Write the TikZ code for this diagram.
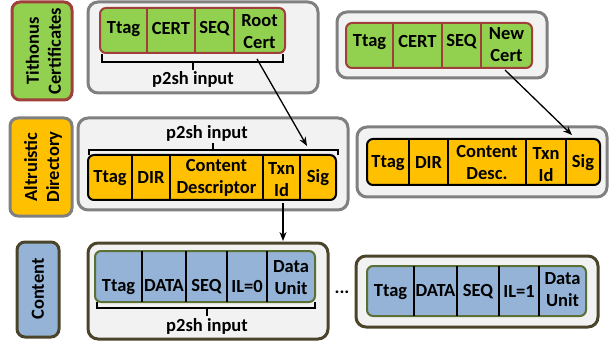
\documentclass[tikz,border=0pt]{standalone}
\usepackage{fontspec}
\setmainfont{Carlito}
\usetikzlibrary{arrows.meta}
\definecolor{grfill}{HTML}{92D050}
\definecolor{grbord}{HTML}{A0403C}
\definecolor{orfill}{HTML}{FFC000}
\definecolor{blfill}{HTML}{95B3D7}
\definecolor{blbord}{HTML}{5A7035}
\definecolor{cfill}{HTML}{F2F2F2}
\definecolor{cgrey}{HTML}{808080}
\definecolor{colive}{HTML}{4A452A}
\begin{document}
\begin{tikzpicture}[x=1pt,y=-1pt,
  font=\bfseries\fontsize{18.5}{22}\selectfont,
  box/.style={anchor=north west, inner sep=0pt, outer sep=0pt},
  cont/.style={box, fill=cfill, draw=cgrey, line width=3pt, rounded corners=10pt},
  contol/.style={cont, draw=colive},
  grec/.style={box, fill=grfill, draw=grbord, line width=2pt, rounded corners=6pt},
  orec/.style={box, fill=orfill, draw=black, line width=2pt, rounded corners=6pt},
  brec/.style={box, fill=blfill, draw=blbord, line width=2pt, rounded corners=6pt},
  gsep/.style={draw=grbord, line width=1.5pt},
  ksep/.style={draw=black, line width=1.5pt},
  txt/.style={inner sep=0pt, align=center},
  lab/.style={box, line width=3pt, rounded corners=8pt},
  brace/.style={draw=black, line width=1.2pt},
  arr/.style={draw=black, line width=1.3pt, -{Stealth[length=9pt,width=7pt]}}
]
\useasboundingbox (0,0) rectangle (612,347);

% side labels
\node[lab, fill=grfill, draw=grbord, minimum width=60pt, minimum height=98pt] (l1) at (12,2) {};
\node[txt, rotate=90] (l1t) at (43.5,51) {Tithonus\\Certificates};
\node[lab, fill=orfill, draw=cgrey, minimum width=62pt, minimum height=98pt] (l2) at (10,118) {};
\node[txt, rotate=90] (l2t) at (43,167) {Altruistic\\Directory};
\node[lab, fill=blfill, draw=colive, minimum width=42pt, minimum height=95pt] (l3) at (17,242) {};
\node[txt, rotate=90] (l3t) at (38,289) {Content};

% containers
\node[cont, minimum width=230pt, minimum height=91pt] (c1) at (88,2) {};
\node[cont, minimum width=210pt, minimum height=66pt] (c2) at (337,12) {};
\node[cont, minimum width=270pt, minimum height=92pt] (c3) at (78,118) {};
\node[cont, minimum width=250pt, minimum height=70pt] (c4) at (357,127) {};
\node[contol, minimum width=240pt, minimum height=96pt] (c5) at (88,243) {};
\node[contol, minimum width=242pt, minimum height=71pt] (c6) at (356,256) {};

% record 1 (green, top-left)
\node[grec, minimum width=185pt, minimum height=45pt] (r1) at (100,8) {};
\draw[gsep] (147,8) -- (147,53) (195,8) -- (195,53) (234,8) -- (234,53);
\node[txt] (r1a) at (123.5,29) {Ttag};
\node[txt] (r1b) at (171,29) {CERT};
\node[txt] (r1c) at (214.5,29) {SEQ};
\node[txt] (r1d) at (259.5,32) {Root\\Cert};

% record 2 (green, top-right)
\node[grec, minimum width=186pt, minimum height=45pt] (r2) at (346,23) {};
\draw[gsep] (393,23) -- (393,68) (442,23) -- (442,68) (481,23) -- (481,68);
\node[txt] (r2a) at (369.5,42) {Ttag};
\node[txt] (r2b) at (417.5,42) {CERT};
\node[txt] (r2c) at (461.5,42) {SEQ};
\node[txt] (r2d) at (506.5,45) {New\\Cert};

% record 3 (orange, middle-left)
\node[orec, minimum width=248pt, minimum height=45pt] (r3) at (88,155) {};
\draw[ksep] (132,155) -- (132,200) (170,155) -- (170,200) (263,155) -- (263,200) (300,155) -- (300,200);
\node[txt] (r3a) at (110,178) {Ttag};
\node[txt] (r3b) at (151,178) {DIR};
\node[txt] (r3c) at (216.5,177.5) {Content\\Descriptor};
\node[txt] (r3d) at (281.5,180) {Txn\\Id};
\node[txt] (r3e) at (318,178) {Sig};

% record 4 (orange, right)
\node[orec, minimum width=233pt, minimum height=46pt] (r4) at (367,139) {};
\draw[ksep] (409,139) -- (409,185) (448,139) -- (448,185) (526,139) -- (526,185) (566,139) -- (566,185);
\node[txt] (r4a) at (388,163) {Ttag};
\node[txt] (r4b) at (428.5,163) {DIR};
\node[txt] (r4c) at (487,162.5) {Content\\Desc.};
\node[txt] (r4d) at (546,165) {Txn\\Id};
\node[txt] (r4e) at (583,163) {Sig};

% record 5 (blue, left)
\node[brec, minimum width=220pt, minimum height=51pt] (r5) at (95,251) {};
\draw[ksep] (142,251) -- (142,302) (186,251) -- (186,302) (227,251) -- (227,302) (267,251) -- (267,302);
\node[txt] (r5a) at (118.5,287) {Ttag};
\node[txt] (r5b) at (164,286) {DATA};
\node[txt] (r5c) at (206.5,287) {SEQ};
\node[txt] (r5d) at (247,286) {IL=0};
\node[txt] (r5e) at (291,278) {Data\\Unit};

% record 6 (blue, right)
\node[brec, minimum width=219pt, minimum height=50pt] (r6) at (367,266) {};
\draw[ksep] (414,266) -- (414,316) (457,266) -- (457,316) (499,266) -- (499,316) (539,266) -- (539,316);
\node[txt] (r6a) at (390.5,292) {Ttag};
\node[txt] (r6b) at (435.5,291) {DATA};
\node[txt] (r6c) at (478,292) {SEQ};
\node[txt] (r6d) at (519,291) {IL=1};
\node[txt] (r6e) at (562.5,290) {Data\\Unit};

% braces and p2sh labels
\draw[brace] (102,54) -- (102,62) -- (283,62) -- (283,54) (193,62) -- (193,70);
\node[txt] (p1) at (193,79) {p2sh input};
\draw[brace] (89,155) -- (89,150) -- (338,150) -- (338,155) (213,150) -- (213,143);
\node[txt] (p3) at (207,133) {p2sh input};
\draw[brace] (97,302) -- (97,308) -- (315,308) -- (315,302) (207,308) -- (207,316);
\node[txt] (p5) at (207,326) {p2sh input};

% dots
\node[txt] (dots) at (342,292) {...};

% arrows
\coordinate (a1s) at (257,59);
\coordinate (a1e) at (307,146);
\coordinate (a2s) at (505,70);
\coordinate (a2e) at (572,135);
\coordinate (a3s) at (283,203);
\coordinate (a3e) at (283,241);
\draw[arr] (a1s) -- (a1e);
\draw[arr] (a2s) -- (a2e);
\draw[arr] (a3s) -- (a3e);
\end{tikzpicture}
\end{document}
